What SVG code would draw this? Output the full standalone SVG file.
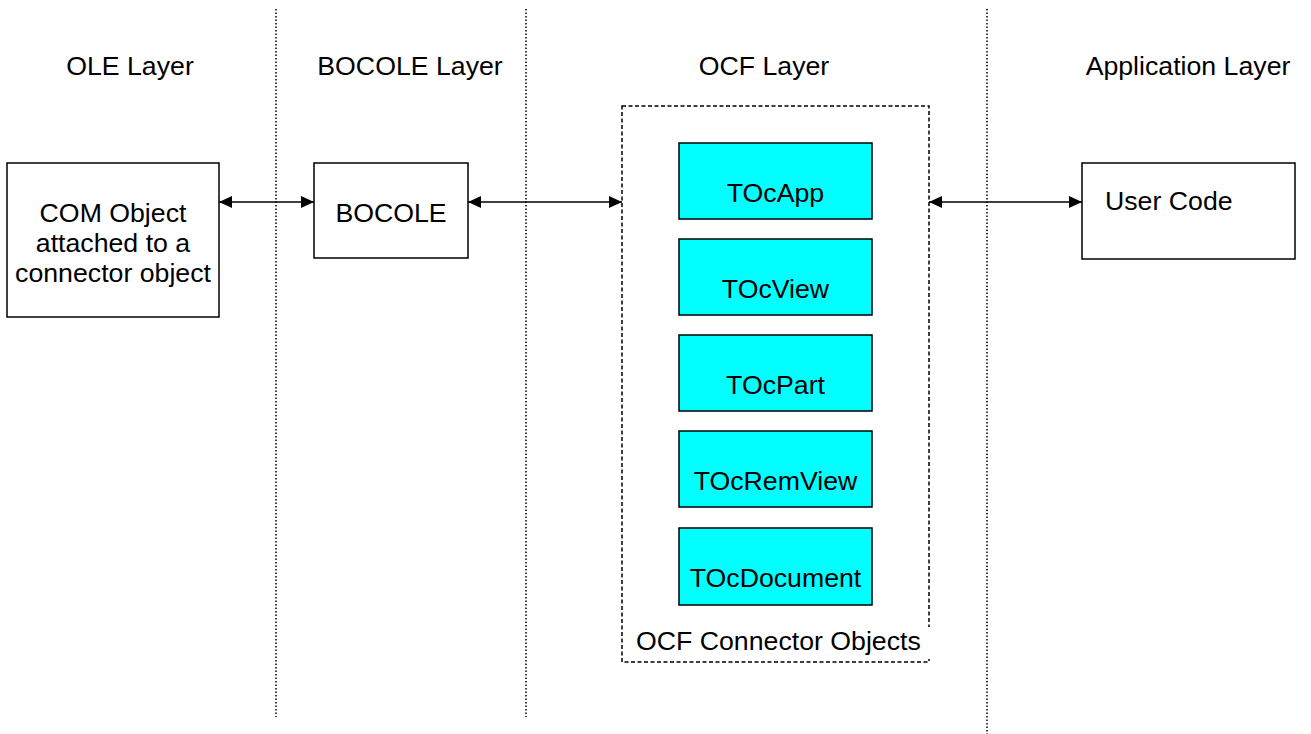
<svg xmlns="http://www.w3.org/2000/svg" width="1311" height="734" viewBox="0 0 1311 734">
  <style>
    text { font-family: "Liberation Sans", Arial, sans-serif; font-size: 26.7px; fill: #000; }
    .mid { text-anchor: middle; }
    .divider { stroke: #000; stroke-width: 1.5; stroke-dasharray: 1.5 2; fill: none; }
    .box { fill: #fff; stroke: #000; stroke-width: 1.5; }
    .cls { fill: #00ffff; stroke: #000; stroke-width: 1.5; }
    .group { fill: none; stroke: #000; stroke-width: 1.5; stroke-dasharray: 4 2.5; }
    .link { stroke: #000; stroke-width: 1.5; fill: none; marker-start: url(#head); marker-end: url(#head); }
  </style>
  <defs>
    <marker id="head" viewBox="0 0 13 12" refX="13" refY="6" markerWidth="13" markerHeight="12" markerUnits="userSpaceOnUse" orient="auto-start-reverse">
      <path d="M0,0 L13,6 L0,12 Z" fill="#000"/>
    </marker>
  </defs>
  <rect width="1311" height="734" fill="#fff"/>

  <!-- layer dividers -->
  <g id="dividers">
    <line class="divider" x1="276" y1="9" x2="276" y2="717"/>
    <line class="divider" x1="526" y1="9" x2="526" y2="717"/>
    <line class="divider" x1="987" y1="9" x2="987" y2="734"/>
  </g>

  <!-- layer headings -->
  <g id="headings">
    <text class="mid" x="130" y="75">OLE Layer</text>
    <text class="mid" x="410" y="75">BOCOLE Layer</text>
    <text class="mid" x="764" y="75">OCF Layer</text>
    <text class="mid" x="1188" y="75">Application Layer</text>
  </g>

  <g id="com-object">
    <rect class="box" x="7" y="163" width="212" height="154"/>
    <text class="mid" x="113" y="222">COM Object</text>
    <text class="mid" x="113" y="252">attached to a</text>
    <text class="mid" x="113" y="282">connector object</text>
  </g>

  <g id="bocole">
    <rect class="box" x="314" y="163" width="154" height="95"/>
    <text class="mid" x="391" y="222">BOCOLE</text>
  </g>

  <g id="ocf-connector-objects">
    <rect class="group" x="622" y="106" width="307" height="556"/>
    <rect x="631" y="627" width="301" height="32" fill="#fff"/>
    <text x="636" y="650">OCF Connector Objects</text>
  </g>

  <g id="tocapp">
    <rect class="cls" x="679" y="143" width="193" height="76"/>
    <text class="mid" x="775.5" y="202">TOcApp</text>
  </g>
  <g id="tocview">
    <rect class="cls" x="679" y="239" width="193" height="76"/>
    <text class="mid" x="775.5" y="298">TOcView</text>
  </g>
  <g id="tocpart">
    <rect class="cls" x="679" y="335" width="193" height="76"/>
    <text class="mid" x="775.5" y="394">TOcPart</text>
  </g>
  <g id="tocremview">
    <rect class="cls" x="679" y="431" width="193" height="76"/>
    <text class="mid" x="775.5" y="490">TOcRemView</text>
  </g>
  <g id="tocdocument">
    <rect class="cls" x="679" y="528" width="193" height="77"/>
    <text class="mid" x="775.5" y="587">TOcDocument</text>
  </g>

  <g id="user-code">
    <rect class="box" x="1082" y="163" width="213" height="96"/>
    <text x="1105" y="210">User Code</text>
  </g>

  <!-- two-way links between layers -->
  <g id="connectors">
    <line class="link" x1="219" y1="202" x2="314" y2="202"/>
    <line class="link" x1="468" y1="202" x2="622" y2="202"/>
    <line class="link" x1="929" y1="202" x2="1082" y2="202"/>
  </g>
</svg>
